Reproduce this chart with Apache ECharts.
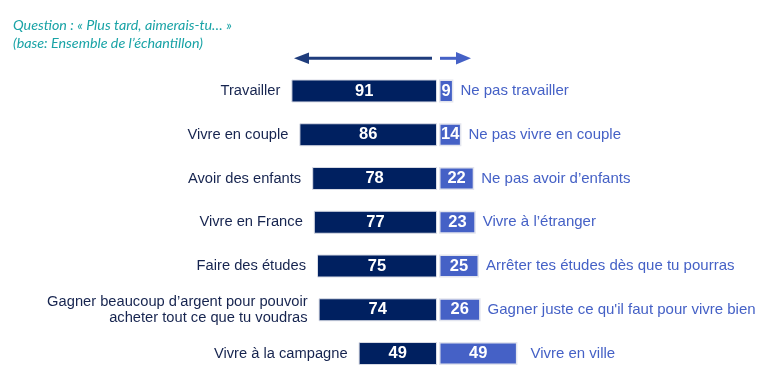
<!DOCTYPE html>
<html><head><meta charset="utf-8">
<script src="https://cdn.jsdelivr.net/npm/echarts@6/dist/echarts.min.js"></script>
<style>html,body{margin:0;padding:0;background:#fff}#c{width:774px;height:385px}</style>
</head><body><div id="c"></div>
<script>
const leftCategories = ["Travailler","Vivre en couple","Avoir des enfants","Vivre en France","Faire des études","Gagner beaucoup d’argent pour pouvoir\nacheter tout ce que tu voudras","Vivre à la campagne"];
const rightCategories = ["Ne pas travailler","Ne pas vivre en couple","Ne pas avoir d’enfants","Vivre à l’étranger","Arrêter tes études dès que tu pourras","Gagner juste ce qu'il faut pour vivre bien","Vivre en ville"];
const leftValues = [91,86,78,77,75,74,49];
const rightValues = [9,14,22,23,25,26,49];
const titleLine1 = "Question : « Plus tard, aimerais-tu… »";
const titleLine2 = "(base: Ensemble de l’échantillon)";

const NAVY = '#002060', BLUE = '#4561C6';
const FONT = '"Liberation Sans", Arial, sans-serif';
const chart = echarts.init(document.getElementById('c'), null, {renderer:'canvas'});

const gridTop = 69.1, gridBottom = 9.6;
const rightDist = rightValues.map((v,i)=> i===6 ? 13 : 7);
const titleStyle = {fontFamily:'Lato, sans-serif', fontStyle:'italic', fontWeight:'normal', fontSize:14.3, color:'#19A3A6'};

chart.setOption({
  animation:false,
  title:[
    {text:titleLine1, left:8, top:13, textStyle:titleStyle},
    {text:titleLine2, left:8, top:31, textStyle:titleStyle}
  ],
  grid:[
    {left:277, width:160, top:gridTop, bottom:gridBottom},
    {left:439, width:160, top:gridTop, bottom:gridBottom}
  ],
  xAxis:[
    {gridIndex:0, type:'value', min:0, max:100, inverse:true, show:false},
    {gridIndex:1, type:'value', min:0, max:100, show:false}
  ],
  yAxis:[
    {gridIndex:0, type:'category', data:leftCategories, inverse:true, show:false},
    {gridIndex:1, type:'category', data:rightCategories, inverse:true, show:false}
  ],
  graphic:[
    {type:'polygon', shape:{points:[[294,58.3],[309,52.5],[309,64]]}, style:{fill:'#1F3C7C'}},
    {type:'rect', shape:{x:307,y:56.8,width:125,height:3}, style:{fill:'#1F3C7C'}},
    {type:'rect', shape:{x:440,y:56.8,width:17,height:3}, style:{fill:BLUE}},
    {type:'polygon', shape:{points:[[471,58.3],[456,52],[456,64.5]]}, style:{fill:BLUE}}
  ],
  series:[
    {type:'bar', xAxisIndex:0, yAxisIndex:0, data:leftValues, barWidth:23,
     itemStyle:{color:NAVY, borderColor:'#d9dce6', borderWidth:1},
     label:{show:true, position:'inside', color:'#fff', fontFamily:FONT, fontWeight:'bold', fontSize:16.5}},
    {type:'bar', xAxisIndex:0, yAxisIndex:0, data:leftValues, barWidth:23, barGap:'-100%',
     itemStyle:{color:'rgba(0,0,0,0)'}, silent:true,
     label:{show:true, position:'left', distance:11, color:'#16244F', fontFamily:FONT, fontSize:14.7, lineHeight:16, align:'right',
       formatter:p=>leftCategories[p.dataIndex]}},
    {type:'bar', xAxisIndex:1, yAxisIndex:1, data:rightValues, barWidth:23,
     itemStyle:{color:BLUE, borderColor:'#e3e5ee', borderWidth:1.5},
     label:{show:true, position:'inside', color:'#fff', fontFamily:FONT, fontWeight:'bold', fontSize:16.5}},
    {type:'bar', xAxisIndex:1, yAxisIndex:1, barWidth:23, barGap:'-100%',
     data:rightValues.map((v,i)=>({value:v, label:{distance:rightDist[i]}})),
     itemStyle:{color:'rgba(0,0,0,0)'}, silent:true,
     label:{show:true, position:'right', color:'#4561C6', fontFamily:FONT, fontSize:15,
       formatter:p=>rightCategories[p.dataIndex]}}
  ]
});
</script></body></html>
